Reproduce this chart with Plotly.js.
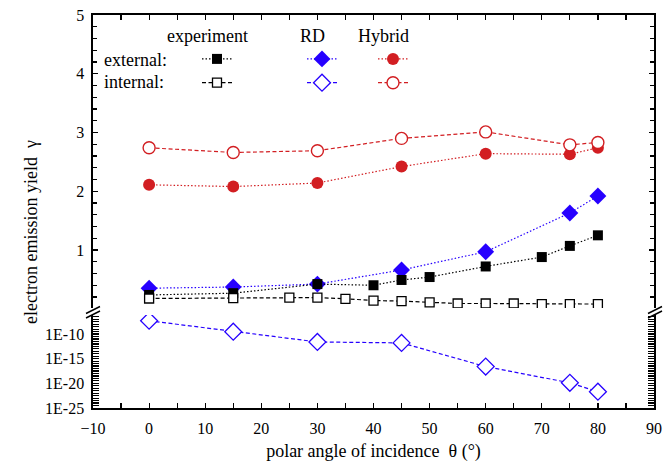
<!DOCTYPE html>
<html>
<head>
<meta charset="utf-8">
<script src="https://cdn.plot.ly/plotly-3.0.1.min.js"></script>
<style>html,body{margin:0;padding:0;background:#fff;}#chart{width:663px;height:465px;}</style>
</head>
<body>
<div id="chart"></div>
<script>
// ---- data ----
const thetaTheory = [0, 15, 30, 45, 60, 75, 80];
const hybridExternal = [2.11, 2.08, 2.14, 2.42, 2.64, 2.63, 2.74];
const hybridInternal = [2.74, 2.66, 2.69, 2.90, 3.01, 2.79, 2.83];
const rdExternal = [0.35, 0.37, 0.42, 0.66, 0.97, 1.63, 1.92];
const rdInternal = [5e-8, 3e-10, 2.5e-12, 1.6e-12, 2.5e-17, 1.3e-20, 2e-22];
const thetaExpExternal = [0, 15, 30, 40, 45, 50, 60, 70, 75, 80];
const expExternal = [0.235, 0.265, 0.42, 0.40, 0.49, 0.54, 0.72, 0.88, 1.07, 1.25];
const thetaExpInternal = [0, 15, 25, 30, 35, 40, 45, 50, 55, 60, 65, 70, 75, 80];
const expInternal = [0.175, 0.18, 0.19, 0.19, 0.17, 0.14, 0.13, 0.11, 0.09, 0.09, 0.09, 0.08, 0.08, 0.08];
const logExponentLabels = [-25, -20, -15, -10];
const columnHeaders = ['experiment', 'RD', 'Hybrid'];
const rowLabels = ['external:', 'internal:'];

// ---- geometry helpers (pixel -> paper) ----
const W = 663, H = 465;
const M = {l: 93, r: 9, t: 15, b: 57};
const PW = W - M.l - M.r, PH = H - M.t - M.b;
const px = x => (x - M.l) / PW;
const py = y => (H - M.b - y) / PH;

const FONT = 'Liberation Serif, Times New Roman, serif';
const BLACK = '#000000', BLUE = '#2600ff', RED = '#d21e22';
const DOT = '1.5px,2px', DASH = '4px,2.5px';

// log-axis ticks every half decade, labels every 5 decades
const logTickVals = [], logTickText = [];
for (let k = -50; k <= -13; k++) {
  const e = k / 2;
  logTickVals.push(Math.pow(10, e));
  logTickText.push(logExponentLabels.includes(e) ? '1E' + e : '');
}

const traces = [
  {x: thetaTheory, y: rdExternal, xaxis: 'x2', yaxis: 'y2', legend: 'legend2', name: ' ',
   mode: 'lines+markers', line: {color: BLUE, width: 1.2, dash: DOT},
   marker: {symbol: 'diamond', size: 13, color: BLUE}},
  {x: thetaTheory, y: rdInternal, xaxis: 'x', yaxis: 'y', legend: 'legend2', name: ' ',
   mode: 'lines+markers', line: {color: BLUE, width: 1.2, dash: DASH},
   marker: {symbol: 'diamond', size: 13, color: '#ffffff', line: {color: BLUE, width: 1.3}}},
  {x: thetaTheory, y: hybridExternal, xaxis: 'x2', yaxis: 'y2', legend: 'legend3', name: ' ',
   mode: 'lines+markers', line: {color: RED, width: 1.2, dash: DOT},
   marker: {symbol: 'circle', size: 12, color: RED}},
  {x: thetaTheory, y: hybridInternal, xaxis: 'x2', yaxis: 'y2', legend: 'legend3', name: ' ',
   mode: 'lines+markers', line: {color: RED, width: 1.2, dash: DASH},
   marker: {symbol: 'circle', size: 12, color: '#ffffff', line: {color: RED, width: 1.4}}},
  {x: thetaExpExternal, y: expExternal, xaxis: 'x2', yaxis: 'y2', legend: 'legend', name: ' ',
   mode: 'lines+markers', line: {color: BLACK, width: 1.2, dash: DOT},
   marker: {symbol: 'square', size: 10, color: BLACK}},
  {x: thetaExpInternal, y: expInternal, xaxis: 'x2', yaxis: 'y2', legend: 'legend', name: ' ',
   mode: 'lines+markers', line: {color: BLACK, width: 1.2, dash: DASH},
   marker: {symbol: 'square', size: 9, color: '#ffffff', line: {color: BLACK, width: 1.3}}}
];

const axisCommon = {
  showline: true, linecolor: BLACK, linewidth: 1.6, ticks: 'inside', tickcolor: BLACK,
  tickwidth: 1.2, showgrid: false, zeroline: false,
  tickfont: {family: FONT, size: 16, color: BLACK}
};

const lowerTop = py(315), upperBottom = py(308);

function legendAt(markerX, topY) {
  return {x: px(markerX - 20), y: py(topY), xanchor: 'left', yanchor: 'top',
          bgcolor: 'rgba(0,0,0,0)', borderwidth: 0, tracegroupgap: 0, itemwidth: 30,
          font: {family: FONT, size: 16, color: BLACK}};
}

const annotations = [];
const headerX = [207, 312, 383];
columnHeaders.forEach((t, i) => annotations.push({
  text: t, xref: 'paper', yref: 'paper', x: px(headerX[i]), y: py(36),
  xanchor: 'center', yanchor: 'middle', showarrow: false,
  font: {family: FONT, size: 18, color: BLACK}}));
const rowY = [60, 82];
rowLabels.forEach((t, i) => annotations.push({
  text: t, xref: 'paper', yref: 'paper', x: px(102), y: py(rowY[i]),
  xanchor: 'left', yanchor: 'middle', showarrow: false,
  font: {family: FONT, size: 18, color: BLACK}}));
annotations.push({
  text: 'electron emission yield\u00a0\u00a0\u03b3', xref: 'paper', yref: 'paper',
  x: px(31), y: py(232), xanchor: 'center', yanchor: 'middle', textangle: -90,
  showarrow: false, font: {family: FONT, size: 18, color: BLACK}});

function breakLines(x0) {
  return [
    {type: 'line', xref: 'paper', yref: 'paper', x0: px(x0), y0: py(313.5), x1: px(x0 + 14), y1: py(306.5),
     line: {color: BLACK, width: 1.4}},
    {type: 'line', xref: 'paper', yref: 'paper', x0: px(x0), y0: py(318), x1: px(x0 + 14), y1: py(311),
     line: {color: BLACK, width: 1.4}}
  ];
}

const layout = {
  width: W, height: H,
  margin: M,
  paper_bgcolor: '#ffffff', plot_bgcolor: 'rgba(0,0,0,0)',
  font: {family: FONT, color: BLACK},
  showlegend: true,
  xaxis: Object.assign({}, axisCommon, {
    domain: [0, 1], anchor: 'y', side: 'bottom', range: [-10, 90],
    tickmode: 'linear', tick0: -10, dtick: 10, ticklen: 5, ticklabelstandoff: 5,
    minor: {dtick: 5, ticks: 'inside', ticklen: 5, tickcolor: BLACK, tickwidth: 1.2, showgrid: false},
    title: {text: 'polar angle of incidence\u00a0\u00a0\u03b8 (\u00b0)', standoff: 8,
            font: {family: FONT, size: 18, color: BLACK}}
  }),
  xaxis2: Object.assign({}, axisCommon, {
    domain: [0, 1], anchor: 'y2', side: 'top', matches: 'x', range: [-10, 90],
    tickmode: 'linear', tick0: -10, dtick: 10, ticklen: 5, showticklabels: false,
    minor: {dtick: 5, ticks: 'inside', ticklen: 5, tickcolor: BLACK, tickwidth: 1.2, showgrid: false}
  }),
  yaxis: Object.assign({}, axisCommon, {
    domain: [0, lowerTop], anchor: 'x', type: 'log', range: [-25, -25 + 93 / 4.93],
    tickmode: 'array', tickvals: logTickVals, ticktext: logTickText,
    ticklen: 6, mirror: 'ticks', ticklabelstandoff: 4
  }),
  yaxis2: Object.assign({}, axisCommon, {
    domain: [upperBottom, 1], anchor: 'x2', range: [0.013, 5],
    tickmode: 'linear', tick0: 0, dtick: 1, ticklen: 5, mirror: 'ticks', ticklabelstandoff: 4,
    minor: {dtick: 0.2, ticks: 'inside', ticklen: 4, tickcolor: BLACK, tickwidth: 1.2, showgrid: false}
  }),
  legend: legendAt(217, 42),
  legend2: legendAt(322, 42),
  legend3: legendAt(393, 42),
  annotations: annotations,
  shapes: breakLines(86).concat(breakLines(648))
};

Plotly.newPlot('chart', traces, layout, {staticPlot: true, displayModeBar: false});
</script>
</body>
</html>
